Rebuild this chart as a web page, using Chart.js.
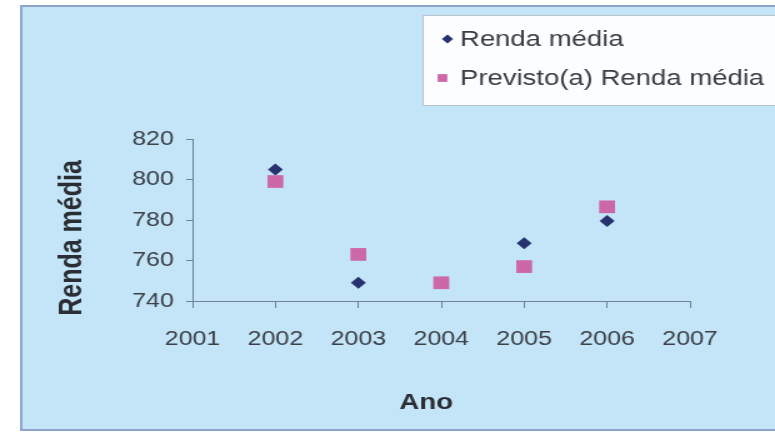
<!DOCTYPE html>
<html>
<head>
<meta charset="utf-8">
<script src="https://cdn.jsdelivr.net/npm/chart.js@4/dist/chart.umd.min.js"></script>
<style>
  body { margin: 0; background: #fff; }
</style>
</head>
<body>
<!-- the original picture is stretched sideways, so the canvas is drawn narrower and scaled up -->
<canvas id="chart" width="620" height="433" style="width:775px;height:433px"></canvas>
<script>
var anos = [2002, 2003, 2004, 2005, 2006];
var rendaMedia = [805, 749, 749, 768.5, 779.5];
var previsto = [799, 763, 749, 757, 786.5];
var anoMin = 2001, anoMax = 2007;
var rendaMin = 740, rendaMax = 820, rendaStep = 20;

function pontos(vals){
  return anos.map(function(a, i){ return {x: a, y: vals[i]}; });
}

var fonte = "'Liberation Sans', Arial, sans-serif";
var corEixo = '#6f8296';

// light blue frame behind everything
var moldura = {
  id: 'moldura',
  beforeDraw: function(chart){
    var ctx = chart.ctx;
    ctx.save();
    ctx.fillStyle = '#ffffff';
    ctx.fillRect(0, 0, chart.width, chart.height);
    ctx.fillStyle = '#c4e5f8';
    ctx.strokeStyle = '#8da4cc';
    ctx.lineWidth = 2;
    ctx.fillRect(17, 6, 620, 424);
    ctx.strokeRect(17, 6, 620, 424);
    ctx.restore();
  }
};

// axis titles and the boxed legend
var textos = {
  id: 'textos',
  afterDraw: function(chart){
    var ctx = chart.ctx;
    ctx.save();
    ctx.fillStyle = '#2a2d33';
    ctx.textAlign = 'center';
    ctx.textBaseline = 'middle';
    ctx.font = 'bold 22px ' + fonte;
    ctx.fillText('Ano', 341, 403);
    ctx.translate(58, 238);
    ctx.rotate(-Math.PI / 2);
    ctx.font = 'bold 25px ' + fonte;
    ctx.fillText('Renda média', 0, 0);
    ctx.restore();

    ctx.save();
    ctx.fillStyle = '#fcfdfe';
    ctx.strokeStyle = '#b8c4d0';
    ctx.lineWidth = 1;
    ctx.fillRect(338.5, 15.5, 300, 90);
    ctx.strokeRect(338.5, 15.5, 300, 90);
    var itens = [{x: 358, y: 39}, {x: 354, y: 78}];
    var raios = [4.5, 5.5];
    ctx.font = '22px ' + fonte;
    ctx.textAlign = 'left';
    ctx.textBaseline = 'middle';
    chart.data.datasets.forEach(function(ds, i){
      ctx.fillStyle = ds.backgroundColor;
      ctx.strokeStyle = ds.borderColor;
      Chart.helpers.drawPoint(ctx, {pointStyle: ds.pointStyle, radius: raios[i], rotation: 0, borderWidth: 0}, itens[i].x, itens[i].y);
      ctx.fillStyle = '#3a3d44';
      ctx.fillText(ds.label, 368, itens[i].y + 1);
    });
    ctx.restore();
  }
};

var ctx = document.getElementById('chart').getContext('2d');
var grafico = new Chart(ctx, {
  type: 'scatter',
  data: {
    datasets: [{
      label: 'Renda média',
      data: pontos(rendaMedia),
      pointStyle: 'rectRot',
      pointRadius: 6,
      backgroundColor: '#27336e',
      borderColor: '#27336e',
      borderWidth: 0,
      order: 2
    }, {
      label: 'Previsto(a) Renda média',
      data: pontos(previsto),
      pointStyle: 'rect',
      pointRadius: 9,
      backgroundColor: '#cc68a8',
      borderColor: '#cc68a8',
      borderWidth: 0,
      order: 1
    }]
  },
  options: {
    responsive: false,
    animation: false,
    devicePixelRatio: 1,
    layout: {
      autoPadding: false,
      padding: {left: 16, right: 68, top: 139, bottom: 0}
    },
    plugins: {
      legend: {display: false},
      tooltip: {enabled: false}
    },
    scales: {
      x: {
        type: 'linear',
        min: anoMin,
        max: anoMax,
        afterFit: function(scale){ scale.height = 132; },
        border: {display: true, color: corEixo, width: 1},
        grid: {drawOnChartArea: false, color: corEixo, tickLength: 7},
        ticks: {
          stepSize: 1,
          maxRotation: 0,
          autoSkip: false,
          padding: 19,
          color: '#3c4048',
          font: {family: fonte, size: 20},
          callback: function(v){ return String(v); }
        }
      },
      y: {
        min: rendaMin,
        max: rendaMax,
        afterFit: function(scale){ scale.width = 138; },
        border: {display: true, color: corEixo, width: 1},
        grid: {drawOnChartArea: false, color: corEixo, tickLength: 5},
        ticks: {
          stepSize: rendaStep,
          padding: 10,
          color: '#3c4048',
          font: {family: fonte, size: 20}
        }
      }
    }
  },
  plugins: [moldura, textos]
});
</script>
</body>
</html>
